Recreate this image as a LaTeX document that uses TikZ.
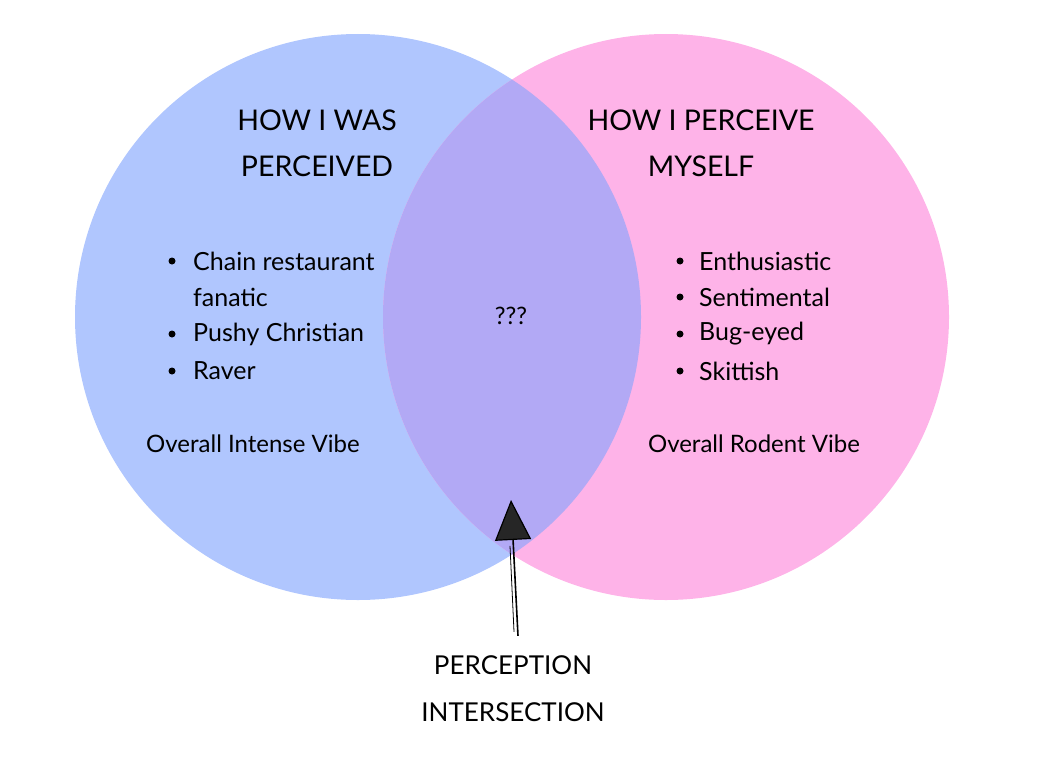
\documentclass[tikz,border=0pt]{standalone}
\usepackage{fontspec}
\setmainfont{Lato}
\usetikzlibrary{arrows.meta}
\definecolor{perceivedblue}{HTML}{B0C6FE}
\definecolor{selfpink}{HTML}{FEB3E8}
\definecolor{overlappurple}{HTML}{B2A9F5}
\tikzset{
  heading/.style={align=center, inner sep=0pt, font=\fontsize{28.5}{46}\selectfont},
  footing/.style={align=center, inner sep=0pt, font=\fontsize{26}{47}\selectfont},
  itemtext/.style={anchor=west, inner sep=0pt, font=\fontsize{25}{28}\selectfont},
  bulletdot/.style={circle, fill=black, inner sep=0pt, minimum size=7pt},
  vibe/.style={inner sep=0pt, font=\fontsize{24}{28}\selectfont}
}
\begin{document}
\begin{tikzpicture}[x=1pt,y=-1pt]
		\useasboundingbox (0,0) rectangle (1054,776);
		% the two sets and their overlap
		\fill[perceivedblue] (358,317) circle (283pt);
		\fill[selfpink] (666,317) circle (283pt);
		\begin{scope}
			\clip (358,317) circle (283pt);
			\fill[overlappurple] (666,317) circle (283pt);
		\end{scope}
		 \node[heading] (hperceived) at (317,143) {HOW I WAS\\PERCEIVED};
		 \node[heading] (hself) at (701,143) {HOW I PERCEIVE\\MYSELF};
		 \foreach \y /\alph/\name/\dot in {
			261/l1/Chain restaurant/1,
		  	297/l2/fanatic/0,
		  	334/l3/Pushy Christian/1,
		  	371/l4/Raver/1
		 }{
		 	\node[itemtext] (\alph) at (193,\y) {\name};
		 	\ifnum\dot=1 \node[bulletdot] (\alph dot) at (172,\y) {}; \fi
		 }
		 \foreach \y /\alph/\name in {
			261/r1/Enthusiastic,
		  	297/r2/Sentimental,
		  	334/r3/Bug-eyed,
		  	371/r4/Skittish
		 }{
		 	\node[itemtext] (\alph) at (699,\y) {\name};
		 	\node[bulletdot] (\alph dot) at (680,\y) {};
		 }
		 \node[vibe] (vibeleft) at (253,444) {Overall Intense Vibe};
		 \node[vibe] (viberight) at (754,444) {Overall Rodent Vibe};
		 \node[vibe] (unknown) at (511,316) {???};
		 \node[footing] (intersection) at (513,689) {PERCEPTION\\INTERSECTION};
		 \coordinate (tip) at (511,500);
		 \draw[line width=1.6pt, -{Triangle[length=40pt, width=36pt, open, fill=black!85, line width=1.2pt]}] ([xshift=5pt, yshift=20pt]intersection.north) -- (tip);
		 \draw[line width=0.8pt] ([xshift=1pt, yshift=24pt]intersection.north) -- ([xshift=-3pt, yshift=110pt]intersection.north);
\end{tikzpicture}
\end{document}
